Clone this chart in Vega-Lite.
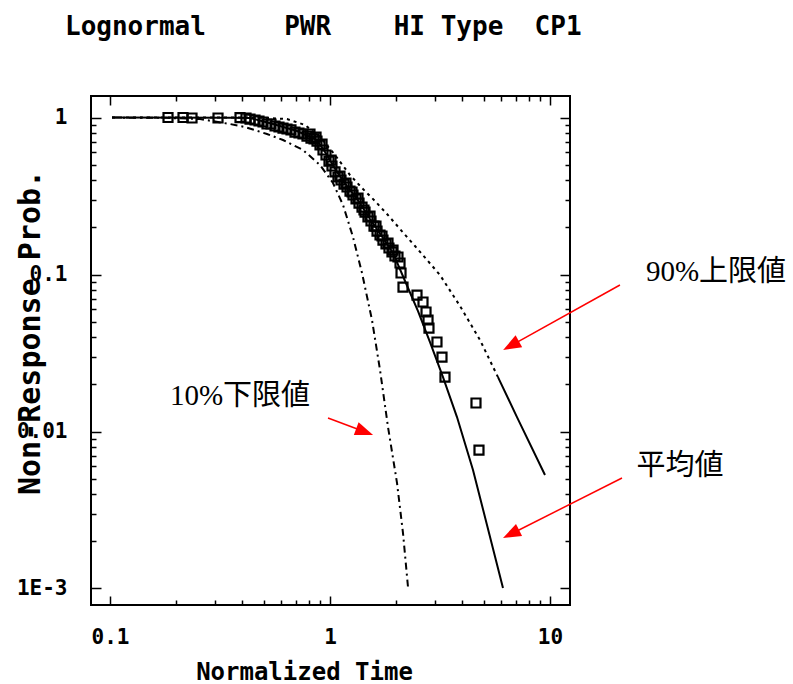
{
  "$schema": "https://vega.github.io/schema/vega-lite/v6.json",
  "width": 479,
  "height": 509,
  "autosize": {"type": "none"},
  "padding": {"left": 91, "top": 96, "right": 223, "bottom": 79},
  "background": "white",
  "config": {
    "view": {"stroke": "black", "strokeWidth": 2},
    "axis": {"domain": false, "grid": false, "tickColor": "black", "tickWidth": 1.5, "labelColor": "black", "titleColor": "black"}
  },
  "title": {
    "text": "Lognormal\u00a0\u00a0\u00a0\u00a0\u00a0PWR\u00a0\u00a0\u00a0\u00a0HI\u00a0Type\u00a0\u00a0CP1",
    "anchor": "start",
    "frame": "group",
    "dx": -26,
    "offset": 34,
    "baseline": "alphabetic",
    "font": "DejaVu Sans Mono",
    "fontSize": 26,
    "fontWeight": "bold",
    "color": "black"
  },
  "datasets": {
    "curves": [
      {"series": "mean", "t": 0.1021, "p": 0.999},
      {"series": "mean", "t": 0.351, "p": 0.998},
      {"series": "mean", "t": 0.433, "p": 0.993},
      {"series": "mean", "t": 0.551, "p": 0.909},
      {"series": "mean", "t": 0.708, "p": 0.82},
      {"series": "mean", "t": 0.873, "p": 0.719},
      {"series": "mean", "t": 0.969, "p": 0.577},
      {"series": "mean", "t": 1.076, "p": 0.45},
      {"series": "mean", "t": 1.195, "p": 0.366},
      {"series": "mean", "t": 1.327, "p": 0.303},
      {"series": "mean", "t": 1.52, "p": 0.2257},
      {"series": "mean", "t": 1.741, "p": 0.1708},
      {"series": "mean", "t": 1.934, "p": 0.1371},
      {"series": "mean", "t": 2.193, "p": 0.0909},
      {"series": "mean", "t": 2.512, "p": 0.0585},
      {"series": "mean", "t": 2.848, "p": 0.03715},
      {"series": "mean", "t": 3.263, "p": 0.02223},
      {"series": "mean", "t": 3.778, "p": 0.01236},
      {"series": "mean", "t": 4.467, "p": 0.00569},
      {"series": "mean", "t": 5.172, "p": 0.002537},
      {"series": "mean", "t": 6.114, "p": 0.001007},
      {"series": "upper_dot", "t": 0.1021, "p": 0.999},
      {"series": "upper_dot", "t": 0.481, "p": 0.999},
      {"series": "upper_dot", "t": 0.6375, "p": 0.978},
      {"series": "upper_dot", "t": 0.77, "p": 0.896},
      {"series": "upper_dot", "t": 0.901, "p": 0.751},
      {"series": "upper_dot", "t": 1.054, "p": 0.577},
      {"series": "upper_dot", "t": 1.233, "p": 0.43},
      {"series": "upper_dot", "t": 1.398, "p": 0.3556},
      {"series": "upper_dot", "t": 1.601, "p": 0.2938},
      {"series": "upper_dot", "t": 1.816, "p": 0.2428},
      {"series": "upper_dot", "t": 2.081, "p": 0.1949},
      {"series": "upper_dot", "t": 2.434, "p": 0.1519},
      {"series": "upper_dot", "t": 3.162, "p": 0.0993},
      {"series": "upper_dot", "t": 3.898, "p": 0.063},
      {"series": "upper_dot", "t": 4.806, "p": 0.0383},
      {"series": "upper_dot", "t": 5.802, "p": 0.0222},
      {"series": "upper_solid", "t": 5.802, "p": 0.0222},
      {"series": "upper_solid", "t": 7.079, "p": 0.01236},
      {"series": "upper_solid", "t": 9.49, "p": 0.00528},
      {"series": "lower", "t": 0.1021, "p": 0.999},
      {"series": "lower", "t": 0.18, "p": 0.995},
      {"series": "lower", "t": 0.2567, "p": 0.978},
      {"series": "lower", "t": 0.351, "p": 0.909},
      {"series": "lower", "t": 0.411, "p": 0.87},
      {"series": "lower", "t": 0.517, "p": 0.785},
      {"series": "lower", "t": 0.6115, "p": 0.719},
      {"series": "lower", "t": 0.754, "p": 0.621},
      {"series": "lower", "t": 0.901, "p": 0.498},
      {"series": "lower", "t": 1.032, "p": 0.3826},
      {"series": "lower", "t": 1.146, "p": 0.2772},
      {"series": "lower", "t": 1.272, "p": 0.1733},
      {"series": "lower", "t": 1.398, "p": 0.1022},
      {"series": "lower", "t": 1.552, "p": 0.0513},
      {"series": "lower", "t": 1.688, "p": 0.02464},
      {"series": "lower", "t": 1.835, "p": 0.01069},
      {"series": "lower", "t": 2.017, "p": 0.00469},
      {"series": "lower", "t": 2.147, "p": 0.002255},
      {"series": "lower", "t": 2.262, "p": 0.001023}
    ],
    "obs": [
      {"t": 0.1835, "p": 1.0}, {"t": 0.2147, "p": 1.0}, {"t": 0.2359, "p": 0.993}, {"t": 0.3097, "p": 0.993},
      {"t": 0.3899, "p": 0.999}, {"t": 0.4151, "p": 0.993}, {"t": 0.4329, "p": 0.978}, {"t": 0.4561, "p": 0.964},
      {"t": 0.4756, "p": 0.95}, {"t": 0.496, "p": 0.936}, {"t": 0.5171, "p": 0.909}, {"t": 0.5392, "p": 0.909},
      {"t": 0.5623, "p": 0.883}, {"t": 0.5863, "p": 0.87}, {"t": 0.6114, "p": 0.857}, {"t": 0.6375, "p": 0.845},
      {"t": 0.6647, "p": 0.833}, {"t": 0.6931, "p": 0.808}, {"t": 0.7228, "p": 0.797}, {"t": 0.7537, "p": 0.785},
      {"t": 0.7859, "p": 0.762}, {"t": 0.8195, "p": 0.74}, {"t": 0.8459, "p": 0.73}, {"t": 0.8727, "p": 0.708},
      {"t": 0.9006, "p": 0.668}, {"t": 0.9294, "p": 0.621}, {"t": 0.959, "p": 0.577}, {"t": 0.9896, "p": 0.528},
      {"t": 1.021, "p": 0.491}, {"t": 1.054, "p": 0.45}, {"t": 1.087, "p": 0.418}, {"t": 1.122, "p": 0.4},
      {"t": 1.158, "p": 0.377}, {"t": 1.195, "p": 0.361}, {"t": 1.233, "p": 0.34}, {"t": 1.272, "p": 0.321},
      {"t": 1.313, "p": 0.303}, {"t": 1.355, "p": 0.285}, {"t": 1.398, "p": 0.269}, {"t": 1.443, "p": 0.25},
      {"t": 1.488, "p": 0.2324}, {"t": 1.536, "p": 0.2192}, {"t": 1.585, "p": 0.2036}, {"t": 1.636, "p": 0.1892},
      {"t": 1.688, "p": 0.1785}, {"t": 1.741, "p": 0.1658}, {"t": 1.797, "p": 0.1564}, {"t": 1.854, "p": 0.1475},
      {"t": 1.913, "p": 0.1391}, {"t": 1.974, "p": 0.1312},
      {"t": 0.811, "p": 0.785}, {"t": 0.864, "p": 0.751}, {"t": 0.92, "p": 0.678}, {"t": 1.011, "p": 0.536},
      {"t": 1.11, "p": 0.424}, {"t": 1.182, "p": 0.3826}, {"t": 1.259, "p": 0.3353}, {"t": 1.341, "p": 0.3071},
      {"t": 1.427, "p": 0.2575}, {"t": 1.52, "p": 0.2358}, {"t": 1.618, "p": 0.2036}, {"t": 1.723, "p": 0.1759},
      {"t": 1.835, "p": 0.1587}, {"t": 1.934, "p": 0.1432},
      {"t": 2.037, "p": 0.1293}, {"t": 2.081, "p": 0.1184}, {"t": 2.103, "p": 0.1022}, {"t": 2.147, "p": 0.0832},
      {"t": 2.486, "p": 0.074}, {"t": 2.647, "p": 0.0668}, {"t": 2.732, "p": 0.0577}, {"t": 2.79, "p": 0.0513},
      {"t": 2.818, "p": 0.0456}, {"t": 3.064, "p": 0.03715}, {"t": 3.229, "p": 0.02981}, {"t": 3.332, "p": 0.02223},
      {"t": 4.609, "p": 0.01519}, {"t": 4.756, "p": 0.00762}
    ],
    "notes": [
      {"label": "90%上限値", "text_t": 56.83, "text_p": 0.1037, "tail_t": 20.8, "tail_p": 0.0857, "head_t": 6.65, "head_p": 0.03524},
      {"label": "10%下限値", "text_t": 0.3899, "text_p": 0.01683, "tail_t": 0.9793, "tail_p": 0.01219, "head_t": 1.437, "head_p": 0.009956},
      {"label": "平均値", "text_t": 38.99, "text_p": 0.006031, "tail_t": 21.25, "tail_p": 0.005056, "head_t": 6.65, "head_p": 0.002224}
    ]
  },
  "layer": [
    {
      "data": {"name": "curves"},
      "transform": [{"filter": "datum.series == 'mean'"}],
      "mark": {"type": "line", "color": "black", "strokeWidth": 2},
      "encoding": {
        "x": {"field": "t", "type": "quantitative", "scale": {"type": "log", "domain": [0.08195, 12.33], "nice": false},
          "axis": {"orient": "bottom", "values": [0.1, 1, 10], "tickSize": -9,
            "labelExpr": "datum.value == 0.1 ? '0.1' : datum.value == 1 ? '1' : '10'",
            "labelFont": "DejaVu Sans Mono", "labelFontSize": 21, "labelFontWeight": "bold", "labelPadding": 30,
            "labelFlush": false, "labelOverlap": false,
            "title": "Normalized Time", "titleFont": "DejaVu Sans Mono", "titleFontSize": 24, "titleFontWeight": "bold",
            "titleX": 213, "titleY": 67, "titleAlign": "center", "titleBaseline": "middle"}},
        "y": {"field": "p", "type": "quantitative", "scale": {"type": "log", "domain": [0.000785, 1.371], "nice": false},
          "axis": {"orient": "left", "values": [0.001, 0.01, 0.1, 1], "tickSize": -10,
            "labelExpr": "datum.value == 1 ? '1' : datum.value == 0.1 ? '0.1' : datum.value == 0.01 ? '0.01' : '1E-3'",
            "labelFont": "DejaVu Sans Mono", "labelFontSize": 21, "labelFontWeight": "bold", "labelPadding": 34,
            "labelFlush": false, "labelOverlap": false, "labelBaseline": "middle",
            "title": "Non-Response Prob.", "titleFont": "DejaVu Sans Mono", "titleFontSize": 30, "titleFontWeight": "bold",
            "titleX": -61, "titleY": 236, "titleAlign": "center", "titleBaseline": "middle"}}
      }
    },
    {
      "data": {"name": "curves"},
      "transform": [{"filter": "datum.series == 'upper_dot'"}],
      "mark": {"type": "line", "color": "black", "strokeWidth": 2, "strokeDash": [3, 4]},
      "encoding": {
        "x": {"field": "t", "type": "quantitative", "scale": {"type": "log", "domain": [0.08195, 12.33], "nice": false},
          "axis": {"orient": "bottom", "values": [0.2, 0.3, 0.4, 0.5, 0.6, 0.7, 0.8, 0.9, 2, 3, 4, 5, 6, 7, 8, 9], "tickSize": -5, "labels": false, "title": null}},
        "y": {"field": "p", "type": "quantitative", "scale": {"type": "log", "domain": [0.000785, 1.371], "nice": false},
          "axis": {"orient": "left", "values": [0.002, 0.003, 0.004, 0.005, 0.006, 0.007, 0.008, 0.009, 0.02, 0.03, 0.04, 0.05, 0.06, 0.07, 0.08, 0.09, 0.2, 0.3, 0.4, 0.5, 0.6, 0.7, 0.8, 0.9], "tickSize": -5, "labels": false, "title": null}}
      }
    },
    {
      "data": {"name": "curves"},
      "transform": [{"filter": "datum.series == 'upper_solid'"}],
      "mark": {"type": "line", "color": "black", "strokeWidth": 2},
      "encoding": {
        "x": {"field": "t", "type": "quantitative", "scale": {"type": "log", "domain": [0.08195, 12.33], "nice": false},
          "axis": {"orient": "top", "values": [0.1, 1, 10], "tickSize": -9, "labels": false, "title": null}},
        "y": {"field": "p", "type": "quantitative", "scale": {"type": "log", "domain": [0.000785, 1.371], "nice": false},
          "axis": {"orient": "right", "values": [0.001, 0.01, 0.1, 1], "tickSize": -10, "labels": false, "title": null}}
      }
    },
    {
      "data": {"name": "curves"},
      "transform": [{"filter": "datum.series == 'lower'"}],
      "mark": {"type": "line", "color": "black", "strokeWidth": 2, "strokeDash": [7, 4, 2, 4]},
      "encoding": {
        "x": {"field": "t", "type": "quantitative", "scale": {"type": "log", "domain": [0.08195, 12.33], "nice": false},
          "axis": {"orient": "top", "values": [0.2, 0.3, 0.4, 0.5, 0.6, 0.7, 0.8, 0.9, 2, 3, 4, 5, 6, 7, 8, 9], "tickSize": -5, "labels": false, "title": null}},
        "y": {"field": "p", "type": "quantitative", "scale": {"type": "log", "domain": [0.000785, 1.371], "nice": false},
          "axis": {"orient": "right", "values": [0.002, 0.003, 0.004, 0.005, 0.006, 0.007, 0.008, 0.009, 0.02, 0.03, 0.04, 0.05, 0.06, 0.07, 0.08, 0.09, 0.2, 0.3, 0.4, 0.5, 0.6, 0.7, 0.8, 0.9], "tickSize": -5, "labels": false, "title": null}}
      }
    },
    {
      "data": {"name": "obs"},
      "mark": {"type": "point", "shape": "square", "filled": false, "color": "black", "strokeWidth": 2.2, "size": 81, "opacity": 1},
      "encoding": {
        "x": {"field": "t", "type": "quantitative", "scale": {"type": "log", "domain": [0.08195, 12.33], "nice": false}, "axis": null},
        "y": {"field": "p", "type": "quantitative", "scale": {"type": "log", "domain": [0.000785, 1.371], "nice": false}, "axis": null}
      }
    },
    {
      "data": {"name": "notes"},
      "mark": {"type": "rule", "color": "#ff0000", "strokeWidth": 1.5},
      "encoding": {
        "x": {"field": "tail_t", "type": "quantitative", "scale": {"type": "log", "domain": [0.08195, 12.33], "nice": false}, "axis": null},
        "y": {"field": "tail_p", "type": "quantitative", "scale": {"type": "log", "domain": [0.000785, 1.371], "nice": false}, "axis": null},
        "x2": {"field": "head_t"},
        "y2": {"field": "head_p"}
      }
    },
    {
      "data": {"name": "notes"},
      "transform": [{"filter": "datum.label == '90%上限値'"}],
      "mark": {"type": "point", "shape": "M0,-1L-0.75,1L0.75,1Z", "filled": true, "color": "#ff0000", "size": 324, "opacity": 1, "angle": 240.9},
      "encoding": {
        "x": {"field": "head_t", "type": "quantitative", "scale": {"type": "log", "domain": [0.08195, 12.33], "nice": false}, "axis": null},
        "y": {"field": "head_p", "type": "quantitative", "scale": {"type": "log", "domain": [0.000785, 1.371], "nice": false}, "axis": null}
      }
    },
    {
      "data": {"name": "notes"},
      "transform": [{"filter": "datum.label == '10%下限値'"}],
      "mark": {"type": "point", "shape": "M0,-1L-0.75,1L0.75,1Z", "filled": true, "color": "#ff0000", "size": 324, "opacity": 1, "angle": 110.7},
      "encoding": {
        "x": {"field": "head_t", "type": "quantitative", "scale": {"type": "log", "domain": [0.08195, 12.33], "nice": false}, "axis": null},
        "y": {"field": "head_p", "type": "quantitative", "scale": {"type": "log", "domain": [0.000785, 1.371], "nice": false}, "axis": null}
      }
    },
    {
      "data": {"name": "notes"},
      "transform": [{"filter": "datum.label == '平均値'"}],
      "mark": {"type": "point", "shape": "M0,-1L-0.75,1L0.75,1Z", "filled": true, "color": "#ff0000", "size": 324, "opacity": 1, "angle": 243.3},
      "encoding": {
        "x": {"field": "head_t", "type": "quantitative", "scale": {"type": "log", "domain": [0.08195, 12.33], "nice": false}, "axis": null},
        "y": {"field": "head_p", "type": "quantitative", "scale": {"type": "log", "domain": [0.000785, 1.371], "nice": false}, "axis": null}
      }
    },
    {
      "data": {"name": "notes"},
      "mark": {"type": "text", "font": "Liberation Serif, Noto Sans CJK JP", "fontSize": 29, "color": "black", "align": "center", "baseline": "middle"},
      "encoding": {
        "x": {"field": "text_t", "type": "quantitative", "scale": {"type": "log", "domain": [0.08195, 12.33], "nice": false}, "axis": null},
        "y": {"field": "text_p", "type": "quantitative", "scale": {"type": "log", "domain": [0.000785, 1.371], "nice": false}, "axis": null},
        "text": {"field": "label"}
      }
    }
  ],
  "resolve": {"axis": {"x": "independent", "y": "independent"}}
}
